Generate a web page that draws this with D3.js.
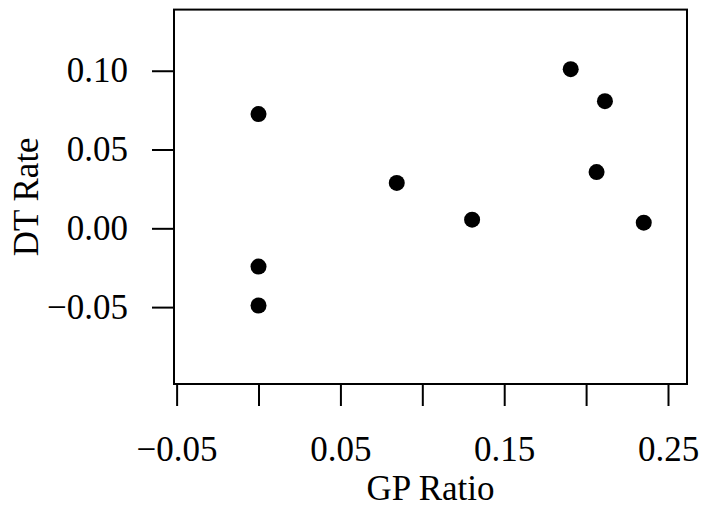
<!DOCTYPE html>
<html>
<head>
<meta charset="utf-8">
<script src="https://cdn.jsdelivr.net/npm/d3@7"></script>
<style>
  body { margin: 0; background: #fff; }
  svg text { font-family: "Liberation Serif", "Times New Roman", serif; }
</style>
</head>
<body>
<div id="main"></div>
<script>
const gpRatio = [0.000, 0.000, 0.000, 0.0844, 0.1304, 0.1906, 0.2115, 0.2064, 0.2352];
const dtRate  = [0.0725, -0.0243, -0.049, 0.0288, 0.0055, 0.101, 0.0807, 0.0357, 0.0036];
const xTicks = [-0.05, 0, 0.05, 0.10, 0.15, 0.20, 0.25];
const xLabels = ["\u22120.05", "", "0.05", "", "0.15", "", "0.25"];
const yTicks = [-0.05, 0, 0.05, 0.10];
const yLabels = ["\u22120.05", "0.00", "0.05", "0.10"];

const width = 702, height = 510;
const box = { left: 174, right: 687, top: 9.6, bottom: 384 };
const fs = 35;

// R style limits: xlim c(-0.04,0.25), ylim c(-0.09,0.13), 4% padding
const pad = (a, b) => { const e = (b - a) * 0.04; return [a - e, b + e]; };

const sx = d3.scaleLinear().domain(pad(-0.04, 0.25)).range([box.left, box.right]);
const sy = d3.scaleLinear().domain(pad(-0.09, 0.13)).range([box.bottom, box.top]);

const svg = d3.select('#main').append('svg')
  .attr('width', width).attr('height', height)
  .attr('viewBox', [0, 0, width, height]);

svg.append('rect')
  .attr('x', box.left).attr('y', box.top)
  .attr('width', box.right - box.left).attr('height', box.bottom - box.top)
  .attr('fill', 'none').attr('stroke', '#000').attr('stroke-width', 2);

const ax = d3.axisBottom(sx).tickValues(xTicks)
  .tickFormat((d, i) => xLabels[i]).tickSize(22).tickSizeOuter(0).tickPadding(30);
const ay = d3.axisLeft(sy).tickValues(yTicks)
  .tickFormat((d, i) => yLabels[i]).tickSize(22).tickSizeOuter(0).tickPadding(24);

const gx = svg.append('g').attr('transform', `translate(0,${box.bottom})`).call(ax);
const gy = svg.append('g').attr('transform', `translate(${box.left},0)`).call(ay);

for (const g of [gx, gy]) {
  g.select('.domain').remove();
  g.selectAll('line').attr('stroke', '#000').attr('stroke-width', 2);
  g.selectAll('text').attr('fill', '#000').attr('font-size', fs)
    .attr('font-family', '"Liberation Serif", serif');
}
// axis line between first and last tick, as R does
svg.append('line')
  .attr('x1', sx(xTicks[0])).attr('x2', sx(xTicks[xTicks.length - 1]))
  .attr('y1', box.bottom).attr('y2', box.bottom)
  .attr('stroke', '#000').attr('stroke-width', 2);
svg.append('line')
  .attr('x1', box.left).attr('x2', box.left)
  .attr('y1', sy(yTicks[0])).attr('y2', sy(yTicks[yTicks.length - 1]))
  .attr('stroke', '#000').attr('stroke-width', 2);

svg.append('text')
  .attr('x', (box.left + box.right) / 2).attr('y', 500)
  .attr('text-anchor', 'middle').attr('font-size', fs)
  .text('GP Ratio');

svg.append('text')
  .attr('transform', `translate(38,${(box.top + box.bottom) / 2}) rotate(-90)`)
  .attr('text-anchor', 'middle').attr('font-size', fs)
  .text('DT Rate');

svg.append('g').selectAll('circle')
  .data(d3.zip(gpRatio, dtRate)).join('circle')
  .attr('cx', d => sx(d[0])).attr('cy', d => sy(d[1]))
  .attr('r', 8).attr('fill', '#000');
</script>
</body>
</html>
